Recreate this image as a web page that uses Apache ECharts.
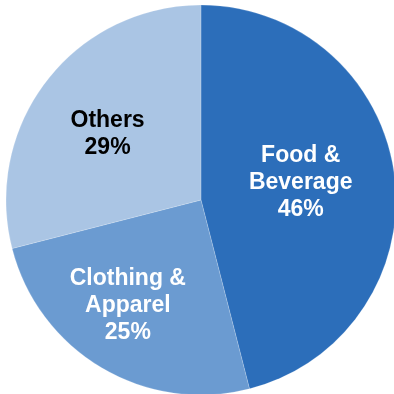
<!DOCTYPE html>
<html>
<head>
<meta charset="utf-8">
<script src="https://cdn.jsdelivr.net/npm/echarts@6/dist/echarts.min.js"></script>
<style>html,body{margin:0;padding:0;background:#fff;}#c{width:394px;height:394px;}</style>
</head>
<body>
<div id="c"></div>
<script>
const categories = ['Food &\nBeverage', 'Clothing &\nApparel', 'Others'];
const values = [46, 25, 29];
const colors = ['#2C6EBA', '#6B9BD1', '#AAC5E4'];
const labelColors = ['#ffffff', '#ffffff', '#000000'];
const labelOffsets = [[0, -5], [-22, 19], [-14, -4]];

const chart = echarts.init(document.getElementById('c'), null, {renderer: 'canvas'});
chart.setOption({
  animation: false,
  series: [{
    type: 'pie',
    center: [201, 200],
    radius: [0, 195],
    startAngle: 90,
    clockwise: true,
    avoidLabelOverlap: false,
    itemStyle: {borderColor: 'rgba(255,255,255,0.45)', borderWidth: 0.4},
    label: {
      show: true,
      position: 'inside',
      fontFamily: '"Liberation Sans", Arial, sans-serif',
      fontWeight: 'bold',
      fontSize: 23,
      lineHeight: 27,
      align: 'center',
      formatter: p => p.name + '\n' + p.value + '%'
    },
    labelLine: {show: false},
    emphasis: {disabled: true},
    data: categories.map((c, i) => ({
      name: c,
      value: values[i],
      itemStyle: {color: colors[i]},
      label: {color: labelColors[i], offset: labelOffsets[i]}
    }))
  }]
});
</script>
</body>
</html>
